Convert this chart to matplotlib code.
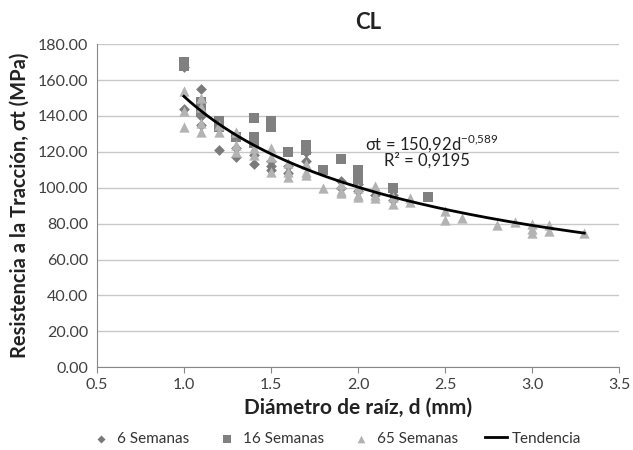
import matplotlib
matplotlib.use("Agg")
import matplotlib.pyplot as plt
import numpy as np

plt.rcParams['font.family'] = ['Lato', 'DejaVu Sans']
plt.rcParams['mathtext.fontset'] = 'custom'
plt.rcParams['mathtext.rm'] = 'Lato'

# 6 Semanas
d6 = [1.0, 1.0, 1.1, 1.1, 1.1, 1.1, 1.2, 1.2, 1.3, 1.3, 1.3, 1.4, 1.4, 1.5, 1.5, 1.5,
      1.6, 1.6, 1.7, 1.7, 1.9, 1.9, 2.0, 2.0, 2.1, 2.2, 2.2]
s6 = [167, 144, 155, 148, 140, 135, 121, 133, 117, 122, 128, 113, 118, 110, 115, 112,
      108, 112, 115, 120, 104, 100, 98, 102, 96, 93, 96]
# 16 Semanas
d16 = [1.0, 1.0, 1.1, 1.1, 1.2, 1.2, 1.3, 1.4, 1.4, 1.4, 1.5, 1.5, 1.6, 1.7, 1.7,
       1.8, 1.9, 2.0, 2.0, 2.0, 2.2, 2.4]
s16 = [170, 168, 148, 142, 137, 134, 128, 139, 128, 125, 137, 134, 120, 124, 121,
       110, 116, 110, 107, 104, 100, 95]
# 65 Semanas
d65 = [1.0, 1.0, 1.0, 1.1, 1.1, 1.1, 1.1, 1.2, 1.2, 1.3, 1.3, 1.3, 1.4, 1.4,
       1.5, 1.5, 1.5, 1.6, 1.6, 1.6, 1.7, 1.7, 1.7, 1.8, 1.9, 1.9, 1.9,
       2.0, 2.0, 2.0, 2.1, 2.1, 2.1, 2.2, 2.2, 2.3, 2.3, 2.5, 2.5, 2.6,
       2.8, 2.9, 3.0, 3.0, 3.0, 3.1, 3.1, 3.3]
s65 = [154, 143, 134, 150, 145, 136, 131, 135, 131, 131, 124, 120, 122, 118,
       122, 117, 109, 114, 109, 106, 113, 109, 107, 100, 102, 98, 97,
       100, 96, 95, 101, 96, 94, 95, 91, 94, 92, 87, 82, 83,
       79, 81, 80, 77, 75, 79, 76, 75]

coef_a = 150.92
coef_b = -0.589
trend_range = (1.0, 3.3)

fig = plt.figure(figsize=(6.33, 4.5), dpi=100)
ax = fig.add_axes([0.153, 0.184, 0.825, 0.718])

ax.scatter(d6, s6, marker='D', s=30, color='#7a7a7a', zorder=3, label='6 Semanas', linewidths=0)
ax.scatter(d16, s16, marker='s', s=60, color='#808080', zorder=3, label='16 Semanas', linewidths=0)
ax.scatter(d65, s65, marker='^', s=55, color='#b3b3b3', zorder=3, label='65 Semanas', linewidths=0)

xt = np.linspace(trend_range[0], trend_range[1], 200)
ax.plot(xt, coef_a * xt ** coef_b, color='black', lw=2, zorder=4, label='Tendencia')

ax.set_xlim(0.5, 3.5)
ax.set_ylim(0, 180)
ax.set_xticks(np.arange(0.5, 3.51, 0.5))
ax.set_xticklabels([f'{v:.1f}' for v in np.arange(0.5, 3.51, 0.5)])
ax.set_yticks(np.arange(0, 181, 20))
ax.set_yticklabels([f'{v:.2f}' for v in np.arange(0, 181, 20)])
ax.grid(axis='y', color='#c8c8c8', lw=1)
ax.set_axisbelow(True)
for sp in ['right', 'top']:
    ax.spines[sp].set_visible(False)
for sp in ['left', 'bottom']:
    ax.spines[sp].set_color('#888888')
ax.tick_params(axis='both', labelsize=11.5, colors='#404040', length=4)
ax.tick_params(axis='x', color='#888888')
ax.tick_params(axis='y', length=0, pad=6)

ax.set_xlabel('Diámetro de raíz, d (mm)', fontsize=15, fontweight='bold', color='#222222', labelpad=4)
ax.set_ylabel('Resistencia a la Tracción, σt (MPa)', fontsize=14.5, fontweight='bold', color='#222222', labelpad=6)
fig.text(0.582, 0.95, 'CL', ha='center', va='center', fontsize=16, fontweight='bold', color='#222222')

ax.text(2.04, 125, r'σt = 150,92d$^{\mathdefault{-0{,}589}}$', fontsize=12, color='#222222', ha='left', va='center')
ax.text(2.15, 115, 'R² = 0,9195', fontsize=12, color='#222222', ha='left', va='center')

leg = fig.legend(loc='center', bbox_to_anchor=(0.53, 0.025), ncol=4, frameon=False,
                 fontsize=11, handlelength=1.5, columnspacing=1.7, handletextpad=0.3,
                 markerscale=0.75, labelcolor='#333333')

fig.savefig('out.png', dpi=100)
